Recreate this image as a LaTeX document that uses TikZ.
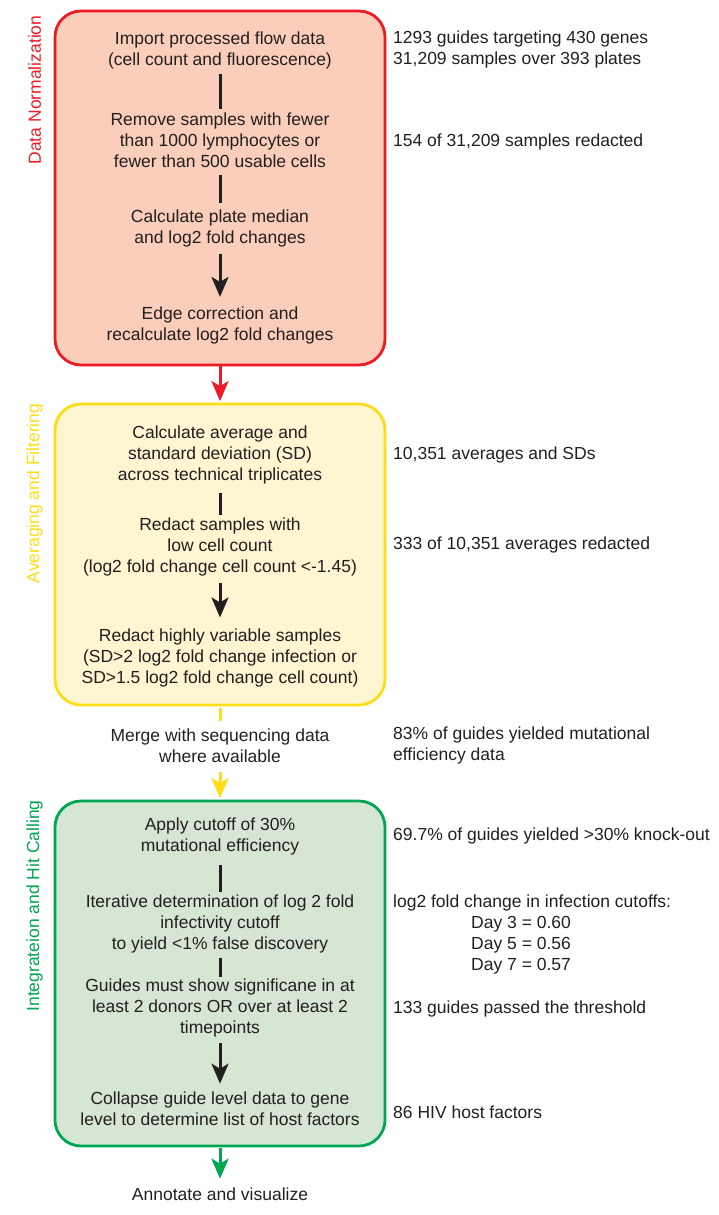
\documentclass[tikz,border=0pt]{standalone}
\usepackage{fontspec}
\setmainfont{Liberation Sans}
\usetikzlibrary{arrows.meta}
\definecolor{cred}{RGB}{237,28,36}
\definecolor{fred}{RGB}{250,206,186}
\definecolor{cyel}{RGB}{255,221,21}
\definecolor{fyel}{RGB}{254,245,209}
\definecolor{cgrn}{RGB}{0,166,81}
\definecolor{fgrn}{RGB}{213,230,210}
\definecolor{txt}{RGB}{35,31,32}
\begin{document}
\begin{tikzpicture}[x=1pt,y=-1pt,
  every node/.style={font=\fontsize{17.5}{21}\selectfont, text=txt},
  stage/.style={draw, line width=2.8pt, rounded corners=26pt, minimum width=330pt, inner sep=0pt},
  stepnode/.style={align=center, inner sep=0pt},
  info/.style={align=left, anchor=west, inner sep=0pt},
  side/.style={rotate=90, inner sep=0pt},
  link/.style={line width=3pt, draw=txt},
  tip/.style={-{Stealth[length=20pt,width=17pt,inset=5pt]}},
  arr/.style={link, tip},
]
\useasboundingbox (0,0) rectangle (718,1215);

% stage boxes
\node[stage, draw=cred, fill=fred, minimum height=354pt] (B1) at (220,188) {};
\node[stage, draw=cyel, fill=fyel, minimum height=301pt] (B2) at (220,554.5) {};
\node[stage, draw=cgrn, fill=fgrn, minimum height=345pt] (B3) at (220,973.5) {};

% side labels
\node[side, text=cred] (L1) at (34.5,90) {Data Normalization};
\node[side, text=cyel] (L2) at (34.5,493.5) {Averaging and Filtering};
\node[side, text=cgrn] (L3) at (34.5,906) {Integrateion and Hit Calling};

% steps box 1
\node[stepnode] (s1) at (220,50) {Import processed flow data\\(cell count and fluorescence)};
\node[stepnode] (s2) at (220,140) {Remove samples with fewer\\than 1000 lymphocytes or\\fewer than 500 usable cells};
\node[stepnode] (s3) at (220,228) {Calculate plate median\\and log2 fold changes};
\node[stepnode] (s4) at (220,325.5) {Edge correction and\\recalculate log2 fold changes};
% steps box 2
\node[stepnode] (s5) at (220,455) {Calculate average and\\standard deviation (SD)\\across technical triplicates};
\node[stepnode] (s6) at (220,547) {Redact samples with\\low cell count\\(log2 fold change cell count <-1.45)};
\node[stepnode] (s7) at (220,657.5) {Redact highly variable samples\\(SD>2 log2 fold change infection or\\SD>1.5 log2 fold change cell count)};
% merge
\node[stepnode] (m) at (220,745.5) {Merge with sequencing data\\where available};
% steps box 3
\node[stepnode] (s8) at (220,836.5) {Apply cutoff of 30\%\\mutational efficiency};
\node[stepnode] (s9) at (220,924) {Iterative determination of log 2 fold\\infectivity cutoff\\to yield <1\% false discovery};
\node[stepnode] (s10) at (220,1008) {Guides must show significane in at\\least 2 donors OR over at least 2\\timepoints};
\node[stepnode] (s11) at (220,1108.5) {Collapse guide level data to gene\\level to determine list of host factors};
\node[stepnode] (an) at (220,1194) {Annotate and visualize};

% right-hand info
\node[info] (i1) at (393,49.6) {1293 guides targeting 430 genes\\31,209 samples over 393 plates};
\node[info] (i2) at (393,142) {154 of 31,209 samples redacted};
\node[info] (i3) at (393,455) {10,351 averages and SDs};
\node[info] (i4) at (393,545) {333 of 10,351 averages redacted};
\node[info] (i5) at (393,745.5) {83\% of guides yielded mutational\\efficiency data};
\node[info] (i6) at (393,836) {69.7\% of guides yielded >30\% knock-out};
\node[info] (i7) at (393,934.5) {log2 fold change in infection cutoffs:\\\hspace*{78pt}Day 3 = 0.60\\\hspace*{78pt}Day 5 = 0.56\\\hspace*{78pt}Day 7 = 0.57};
\node[info] (i8) at (393,1009) {133 guides passed the threshold};
\node[info] (i9) at (393,1112) {86 HIV host factors};

% links inside boxes
\draw[link, shorten <=5pt, shorten >=3.7pt] (s1.south) -- (s2.north);
\draw[link, shorten <=7.5pt, shorten >=5.7pt] (s2.south) -- (s3.north);
\draw[arr, shorten <=6.8pt, shorten >=9.7pt] (s3.south) -- (s4.north);
\draw[link, shorten <=8.8pt, shorten >=3pt] (s5.south) -- (s6.north);
\draw[arr, shorten <=6.8pt, shorten >=10.7pt] (s6.south) -- (s7.north);
\draw[link, shorten <=9.8pt, shorten >=2.7pt] (s8.south) -- (s9.north);
\draw[link, shorten <=4.8pt, shorten >=1.7pt] (s9.south) -- (s10.north);
\draw[arr, shorten <=5.8pt, shorten >=7.7pt] (s10.south) -- (s11.north);

% links between stages
\draw[line width=3pt, draw=cred, tip, shorten >=1.5pt] (B1.south) -- (B2.north);
\draw[line width=3pt, draw=cyel, shorten <=1.5pt, shorten >=7pt] (B2.south) -- (m.north);
\draw[line width=3pt, draw=cyel, tip, shorten <=9.5pt, shorten >=1.5pt] (m.south) -- (B3.north);
\draw[line width=3pt, draw=cgrn, tip, shorten <=1pt, shorten >=8.7pt] (B3.south) -- (an.north);
\end{tikzpicture}
\end{document}
